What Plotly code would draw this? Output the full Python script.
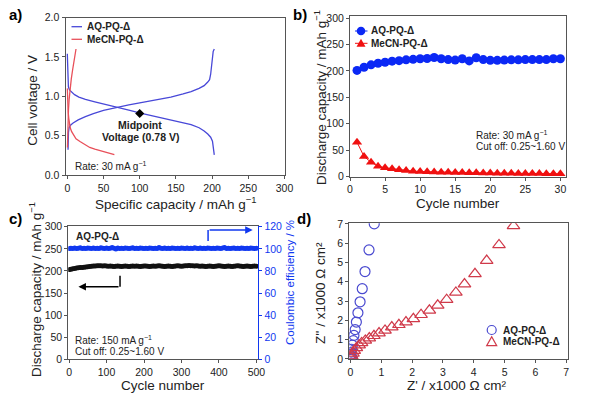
import plotly.graph_objects as go

# ---------------- data ----------------
# (a) galvanostatic curves
aq_dis_cap = [0, 0.3, 0.8, 1.5, 3, 6, 10, 16, 25, 38, 55, 70, 85, 101, 120, 143, 155, 171, 182, 189, 194, 198, 200.5, 202, 203]
aq_dis_v = [1.54, 1.35, 1.2, 1.12, 1.08, 1.05, 1.02, 0.99, 0.96, 0.93, 0.895, 0.86, 0.825, 0.787, 0.745, 0.70, 0.675, 0.64, 0.60, 0.56, 0.52, 0.48, 0.43, 0.35, 0.255]
aq_chg_cap = [1, 1.2, 1.6, 2.5, 4, 8, 15, 25, 36, 50, 68, 85, 100, 120, 143, 160, 171, 182, 189, 194, 196.5, 198, 199, 200, 201.5, 203]
aq_chg_v = [0.32, 0.45, 0.54, 0.6, 0.63, 0.66, 0.70, 0.74, 0.78, 0.82, 0.86, 0.89, 0.915, 0.95, 0.99, 1.03, 1.06, 1.10, 1.135, 1.18, 1.21, 1.28, 1.38, 1.5, 1.57, 1.6]
mecn_chg_cap = [0.2, 0.5, 1, 1.6, 2.5, 3.7, 5.5, 7.4, 9.5, 12]
mecn_chg_v = [0.35, 0.55, 0.72, 0.83, 0.96, 1.085, 1.22, 1.34, 1.47, 1.6]
mecn_dis_cap = [0, 0.3, 0.7, 1.2, 2, 2.8, 4, 6, 8.3, 12, 17.5, 24, 31, 38, 45, 55, 65]
mecn_dis_v = [1.1, 0.98, 0.88, 0.8, 0.72, 0.66, 0.6, 0.55, 0.51, 0.46, 0.425, 0.385, 0.35, 0.33, 0.31, 0.285, 0.26]
midpoint_cap = [100]
midpoint_v = [0.78]

# (b) cycling at 30 mA/g
cycles_b = list(range(1, 31))
aq_cap_b = [201, 207, 211.5, 214.5, 216.5, 218.5, 219.5, 221, 222, 223, 223.5, 225.5, 223, 221.5, 220.5,
            223, 219, 225, 221.5, 220, 220, 220.5, 221, 221, 221.5, 221.5, 221.5, 221.5, 223, 223]
mecn_cap_b = [65, 38, 27, 19.6, 16.4, 14.5, 12.6, 11.4, 10.1, 9.5, 9, 8.6, 8.2, 7.9, 7.6,
              7.4, 7.1, 6.9, 6.7, 6.5, 6.3, 6.1, 6.0, 5.8, 5.7, 5.6, 5.5, 5.4, 5.3, 5.2]

# (c) long cycling at 150 mA/g
cycles_c = [1] + list(range(5, 501, 5))
cap_c = [203, 204, 205, 205.5, 206.5, 207, 207.5, 208, 208.5, 209, 209.5,
         210, 210.5, 211, 211, 211.5, 212, 211.5, 211, 211.5, 211,
         210.5, 211, 210.5, 210, 210.5, 211, 210.5, 210, 210.5, 211,
         210.5, 210, 210.5, 211, 210.5, 211, 210.5, 210, 210.5, 211,
         211, 210.5, 210, 210.5, 211, 210.5, 211, 211.5, 211, 210.5,
         210, 210.5, 211, 210.5, 210, 210.5, 211, 211.5, 211, 210.5,
         211, 211.5, 212, 212.5, 212, 211.5, 211, 211.5, 211, 210.5,
         211, 210.5, 210, 210.5, 211, 210.5, 210, 210.5, 211, 211.5,
         211, 210.5, 210, 210.5, 211, 210.5, 210, 210.5, 211, 211.5,
         211, 210.5, 210, 210.5, 211, 210.5, 210, 210.5, 211, 210.5]
ce_c = [100.2, 100.6, 100.4, 100.8, 100.3, 100.5, 100.9, 100.4, 100.6, 100.2, 100.7,
        100.5, 100.3, 100.8, 100.4, 100.6, 100.2, 100.9, 100.5, 100.3, 100.7,
        100.4, 100.6, 101.2, 100.5, 99.9, 100.7, 100.4, 100.6, 100.3, 100.8,
        100.5, 100.2, 100.6, 100.9, 100.4, 100.5, 100.3, 100.7, 100.5, 100.4,
        100.6, 100.3, 100.8, 100.5, 100.2, 100.6, 100.4, 101.1, 100.5, 100.3,
        100.7, 100.4, 100.6, 100.2, 100.8, 100.5, 100.3, 100.6, 100.4, 100.7,
        100.5, 100.3, 100.8, 100.4, 100.6, 100.2, 100.9, 100.5, 100.3, 100.7,
        100.4, 100.6, 100.3, 100.8, 100.5, 100.2, 100.6, 100.4, 100.7, 100.5,
        100.3, 100.8, 101.2, 100.4, 100.6, 100.2, 100.5, 100.7, 100.4, 100.6,
        100.3, 100.8, 100.5, 100.2, 100.6, 100.4, 100.7, 100.5, 100.3, 100.6]

# (d) impedance (x1000 ohm cm2)
aq_zre = [0.77, 0.60, 0.47, 0.38, 0.31, 0.24, 0.19, 0.15, 0.11, 0.09, 0.06, 0.04, 0.02, 0.015, 0.01, 0.02, 0.03, 0.04, 0.05, 0.06]
aq_zim = [7.0, 5.65, 4.53, 3.64, 2.96, 2.39, 1.91, 1.52, 1.22, 0.95, 0.71, 0.5, 0.35, 0.25, 0.17, 0.1, 0.05, 0.03, 0.015, 0.01]
mecn_zre = [5.29, 4.82, 4.42, 4.04, 3.70, 3.42, 3.12, 2.83, 2.56, 2.29, 2.04, 1.80, 1.57, 1.34, 1.12,
            0.925, 0.76, 0.61, 0.48, 0.36, 0.28, 0.19, 0.12, 0.08, 0.04, 0.01]
mecn_zim = [6.9, 5.91, 5.1, 4.41, 3.88, 3.45, 3.07, 2.78, 2.52, 2.29, 2.08, 1.91, 1.77, 1.65, 1.48,
            1.34, 1.2, 1.08, 0.96, 0.83, 0.71, 0.57, 0.43, 0.29, 0.15, 0.05]

# ---------------- styling ----------------
W, H = 600, 395
FONT = "Arial, Liberation Sans, sans-serif"
AXC = "#555555"
TXT = "#222222"
BLUE_A, RED_A = "#4848d8", "#e8505a"
BLUE_B, RED_B = "#0b28f5", "#f01010"
BLUE_C = "#1038f0"
BLUE_D, RED_D = "#4a4ad0", "#d03a4a"


def px(x):
    return x / W


def py(y):
    return 1 - y / H


fig = go.Figure()

# (a)
fig.add_trace(go.Scatter(x=aq_dis_cap, y=aq_dis_v, mode="lines", line=dict(color=BLUE_A, width=1.3), xaxis="x", yaxis="y"))
fig.add_trace(go.Scatter(x=aq_chg_cap, y=aq_chg_v, mode="lines", line=dict(color=BLUE_A, width=1.3), xaxis="x", yaxis="y"))
fig.add_trace(go.Scatter(x=mecn_chg_cap, y=mecn_chg_v, mode="lines", line=dict(color=RED_A, width=1.3), xaxis="x", yaxis="y"))
fig.add_trace(go.Scatter(x=mecn_dis_cap, y=mecn_dis_v, mode="lines", line=dict(color=RED_A, width=1.3), xaxis="x", yaxis="y"))
fig.add_trace(go.Scatter(x=midpoint_cap, y=midpoint_v, mode="markers", marker=dict(symbol="diamond", size=7, color="black"), xaxis="x", yaxis="y"))

# (b)
fig.add_trace(go.Scatter(x=cycles_b, y=aq_cap_b, mode="lines+markers", line=dict(color=BLUE_B, width=1),
                         marker=dict(symbol="circle", size=9, color=BLUE_B), xaxis="x2", yaxis="y2"))
fig.add_trace(go.Scatter(x=cycles_b, y=mecn_cap_b, mode="lines+markers", line=dict(color=RED_B, width=1),
                         marker=dict(symbol="triangle-up", size=9, color=RED_B), xaxis="x2", yaxis="y2"))

# (c)
fig.add_trace(go.Scatter(x=cycles_c, y=cap_c, mode="markers", marker=dict(size=5, color="#111111"), xaxis="x3", yaxis="y3"))
fig.add_trace(go.Scatter(x=cycles_c, y=ce_c, mode="markers", marker=dict(size=5, color=BLUE_C), xaxis="x3", yaxis="y5"))

# (d)
fig.add_trace(go.Scatter(x=aq_zre, y=aq_zim, mode="markers",
                         marker=dict(symbol="circle-open", size=10, color=BLUE_D, line=dict(width=1.2)), xaxis="x4", yaxis="y4"))
fig.add_trace(go.Scatter(x=mecn_zre, y=mecn_zim, mode="markers",
                         marker=dict(symbol="triangle-up-open", size=11, color=RED_D, line=dict(width=1.2)), xaxis="x4", yaxis="y4"))

tickfont = dict(family=FONT, size=10.5, color=TXT)


def axis(domain, rng, dtick, anchor, **kw):
    d = dict(domain=domain, range=rng, dtick=dtick, anchor=anchor, showgrid=False, zeroline=False,
             showline=True, linecolor=AXC, linewidth=1, mirror=True, ticks="outside", ticklen=3,
             tickcolor=AXC, tickfont=tickfont, automargin=False)
    d.update(kw)
    return d


layout = dict(
    width=W, height=H, margin=dict(l=0, r=0, t=0, b=0, autoexpand=False), showlegend=False,
    paper_bgcolor="white", plot_bgcolor="white", font=dict(family=FONT, color=TXT),
    xaxis=axis([px(65.5), px(284.5)], [-2.5, 300], 50, "y"),
    yaxis=axis([py(175), py(17.5)], [0, 2.0], 0.5, "x", tickformat=".1f"),
    xaxis2=axis([px(350), px(566)], [0, 30.8], 5, "y2"),
    yaxis2=axis([py(176.5), py(15.5)], [0, 305], 50, "x2"),
    xaxis3=axis([px(68.3), px(258.3)], [-2, 505], 100, "y3"),
    yaxis3=axis([py(359.3), py(226.3)], [0, 301], 50, "x3", mirror=False),
    yaxis5=dict(overlaying="y3", anchor="x3", side="right", range=[0, 120.4], dtick=20, showgrid=False,
                zeroline=False, showline=True, linecolor=BLUE_C, linewidth=1, ticks="outside", ticklen=3,
                tickcolor=BLUE_C, tickfont=dict(family=FONT, size=10.5, color=BLUE_C), automargin=False),
    xaxis4=axis([px(349.3), px(567.7)], [-0.04, 7.05], 1, "y4"),
    yaxis4=axis([py(359.3), py(223.3)], [-0.02, 7.03], 1, "x4"),
)

ann = []
shapes = []


def text(t, x, y, size=10, bold=False, color=TXT, xanchor="left", angle=0):
    if bold:
        t = "<b>" + t + "</b>"
    ann.append(dict(text=t, x=px(x), y=py(y), xref="paper", yref="paper", showarrow=False,
                    xanchor=xanchor, yanchor="middle", textangle=angle,
                    font=dict(family=FONT, size=size, color=color)))


# panel labels
text("a)", 15, 15, 15, True, "black", "center")
text("b)", 300, 15, 15, True, "black", "center")
text("c)", 15, 218, 15, True, "black", "center")
text("d)", 304, 218, 15, True, "black", "center")

# axis titles
TS = 13.5
text("Cell voltage / V", 31.7, 100, TS, xanchor="center", angle=-90)
text("Specific capacity / mAh g<sup>\u22121</sup>", 175.5, 203, TS, xanchor="center")
text("Discharge capacity / mAh g<sup>\u22121</sup>", 320, 98, TS, xanchor="center", angle=-90)
text("Cycle number", 458, 203.3, TS, xanchor="center")
text("Discharge capacity / mAh g<sup>\u22121</sup>", 35, 290, TS, xanchor="center", angle=-90)
text("Cycle number", 163, 385, TS, xanchor="center")
text("Coulombic efficiency / %", 290, 283, 11.5, color=BLUE_C, xanchor="center", angle=-90)
text("Z'' / x1000 \u03a9 cm\u00b2", 320, 293, TS, xanchor="center", angle=-90)
text("Z' / x1000 \u03a9 cm\u00b2", 456.7, 385.5, TS, xanchor="center")

# (a) legend + notes
shapes.append(dict(type="line", xref="paper", yref="paper", x0=px(71.5), x1=px(82), y0=py(26.7), y1=py(26.7), line=dict(color=BLUE_A, width=1.3)))
shapes.append(dict(type="line", xref="paper", yref="paper", x0=px(71.5), x1=px(82), y0=py(39.3), y1=py(39.3), line=dict(color=RED_A, width=1.3)))
text("AQ-PQ-\u0394", 85, 26.7, 10, True)
text("MeCN-PQ-\u0394", 85, 39.3, 10, True)
text("Rate: 30 mA g<sup>\u22121</sup>", 73, 166.3, 10)
text("Midpoint", 140, 125.5, 10.5, True, xanchor="center")
text("Voltage (0.78 V)", 140, 136.7, 10.5, True, xanchor="center")

# (b) legend + notes
for yy, col, sym in [(31, BLUE_B, "c"), (43.3, RED_B, "t")]:
    shapes.append(dict(type="line", xref="paper", yref="paper", x0=px(355), x1=px(367.5), y0=py(yy), y1=py(yy), line=dict(color=col, width=1)))
    if sym == "c":
        shapes.append(dict(type="circle", xref="paper", yref="paper", xsizemode="pixel", ysizemode="pixel",
                           xanchor=px(361), yanchor=py(yy), x0=-4.3, x1=4.3, y0=-4.3, y1=4.3,
                           fillcolor=col, line=dict(color=col, width=0)))
    else:
        shapes.append(dict(type="path", xref="paper", yref="paper", xsizemode="pixel", ysizemode="pixel",
                           xanchor=px(361), yanchor=py(yy), path="M-4.5,-3.5 L4.5,-3.5 L0,4.5 Z",
                           fillcolor=col, line=dict(color=col, width=0)))
text("AQ-PQ-\u0394", 369, 31, 10, True)
text("MeCN-PQ-\u0394", 369, 43.3, 10, True)
text("Rate: 30 mA g<sup>\u22121</sup>", 474, 135, 10)
text("Cut off: 0.25~1.60 V", 474, 146.5, 10)

# (c) notes and arrows
text("AQ-PQ-\u0394", 74, 236.7, 10, True)
text("Rate: 150 mA g<sup>\u22121</sup>", 73, 340, 10)
text("Cut off: 0.25~1.60 V", 73, 351, 10)
shapes.append(dict(type="line", xref="x3", yref="y3", x0=136, x1=136, y0=189, y1=164, line=dict(color="black", width=1.5)))
ann.append(dict(x=25, y=164, ax=136, ay=164, xref="x3", yref="y3", axref="x3", ayref="y3", text="", showarrow=True,
                arrowhead=2, arrowsize=1, arrowwidth=1.5, arrowcolor="black"))
shapes.append(dict(type="line", xref="x3", yref="y3", x0=371, x1=371, y0=268, y1=292.5, line=dict(color=BLUE_C, width=1.5)))
ann.append(dict(x=490, y=292.5, ax=371, ay=292.5, xref="x3", yref="y3", axref="x3", ayref="y3", text="", showarrow=True,
                arrowhead=2, arrowsize=1, arrowwidth=1.5, arrowcolor=BLUE_C))

# (d) legend
shapes.append(dict(type="circle", xref="paper", yref="paper", xsizemode="pixel", ysizemode="pixel",
                   xanchor=px(491.7), yanchor=py(330), x0=-4.5, x1=4.5, y0=-4.5, y1=4.5,
                   line=dict(color=BLUE_D, width=1.2)))
shapes.append(dict(type="path", xref="paper", yref="paper", xsizemode="pixel", ysizemode="pixel",
                   xanchor=px(491.7), yanchor=py(341.7), path="M-5,-4 L5,-4 L0,5 Z",
                   line=dict(color=RED_D, width=1.2)))
text("AQ-PQ-\u0394", 501, 330, 10, True)
text("MeCN-PQ-\u0394", 501, 341.7, 10, True)

layout["annotations"] = ann
layout["shapes"] = shapes
fig.update_layout(**layout)
fig.write_html("out.html", config={"displayModeBar": False},
               post_script="document.body.style.margin='0px';document.body.style.padding='0px';"
                           "document.documentElement.style.overflow='hidden';")
